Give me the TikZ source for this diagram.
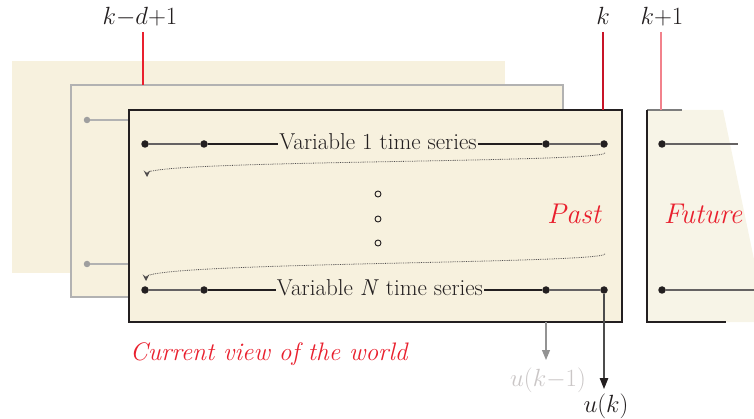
\documentclass[tikz,border=0pt]{standalone}
\usetikzlibrary{arrows.meta}

\definecolor{cream}{RGB}{247,241,222}
\definecolor{creamlight}{RGB}{247,244,231}
\definecolor{hired}{RGB}{233,32,46}
\definecolor{crimson}{RGB}{200,20,40}
\definecolor{pinkline}{RGB}{242,130,140}
\definecolor{panelgray}{RGB}{178,178,178}
\definecolor{ink}{RGB}{35,31,32}
\definecolor{fadedink}{RGB}{202,198,198}

\begin{document}
\begin{tikzpicture}[x=1pt,y=-1pt,
  dot/.style={circle,fill=ink,inner sep=0pt,minimum size=7.5pt},
  greydot/.style={circle,fill=gray!75,inner sep=0pt,minimum size=6.5pt},
  hollow/.style={circle,draw=ink,line width=0.9pt,inner sep=0pt,minimum size=6pt},
  series/.style={font=\fontsize{23}{27}\selectfont,text=ink,inner sep=1pt,anchor=base},
  era/.style={font=\fontsize{28.5}{32}\selectfont\itshape,text=hired,anchor=base,inner sep=0pt},
  tick/.style={font=\fontsize{25}{30}\selectfont,text=ink,anchor=base,inner sep=0pt},
  row/.style={line width=1.1pt,draw=ink},
  rowfaint/.style={line width=1.1pt,draw=ink!70},
  wrap/.style={densely dotted,line width=0.8pt,draw=ink!80,
    -{Stealth[length=6.5pt,width=6.5pt,inset=2.5pt]}},
  panel/.style={line width=1.3pt},
  marker/.style={line width=1.1pt},
]
\useasboundingbox (0,0) rectangle (754,419);

% stacked windows of earlier time steps
\fill[cream] (12,61) rectangle (505,273);
\filldraw[fill=cream,draw=panelgray,panel] (71,85) rectangle (563,297);
\node[greydot] (g1) at (87,120) {};
\node[greydot] (g2) at (87,264) {};
\coordinate (g1e) at (129,120);
\coordinate (g2e) at (129,264);
\draw[panelgray,line width=1.2pt] (g1) -- (g1e);
\draw[panelgray,line width=1.2pt] (g2) -- (g2e);

% current window
\filldraw[fill=cream,draw=ink,panel] (129,110) rectangle (622,322);

% variable 1 row
\node[dot] (a1) at (145,144) {};
\node[dot] (a2) at (204,144) {};
\node[dot] (a3) at (546,144) {};
\node[dot] (a4) at (604,144) {};
\node[series] (t1) at (378,150) {Variable 1 time series};
\draw[rowfaint] (a1) -- (a2);
\draw[row] (a2) -- (a2 -| t1.west);
\draw[row] (t1.east |- a3) -- (a3);
\draw[rowfaint] (a3) -- (a4);

% variable N row
\node[dot] (b1) at (145,290) {};
\node[dot] (b2) at (204,290) {};
\node[dot] (b3) at (546,290) {};
\node[dot] (b4) at (604,290) {};
\node[series] (tN) at (380,295) {Variable \textit{N} time series};
\draw[rowfaint] (b1) -- (b2);
\draw[row] (b2) -- (b2 -| tN.west);
\draw[row] (tN.east |- b3) -- (b3);
\draw[rowfaint] (b3) -- (b4);

% wrap-around of each row
\coordinate (w1s) at (605,153);
\coordinate (w1e) at (147,177);
\draw[wrap] (w1s) .. controls (600,163) and (147,160) .. (w1e);
\coordinate (w2s) at (605,254);
\coordinate (w2e) at (146,281);
\draw[wrap] (w2s) .. controls (600,264) and (146,262) .. (w2e);

% vertical ellipsis
\node[hollow] (e1) at (378,194) {};
\node[hollow] (e2) at (378,219) {};
\node[hollow] (e3) at (378,243) {};

\node[era] (past) at (574,224) {Past};

% future window
\fill[creamlight] (647,110) -- (723,110) -- (767,322) -- (647,322) -- cycle;
\draw[panelgray!70!black,panel] (647,110) -- (682,110);
\draw[ink,panel] (647,110) -- (647,322) -- (726,322);
\node[dot] (f1) at (662,144) {};
\node[dot] (f2) at (662,290) {};
\coordinate (f1e) at (738,144);
\coordinate (f2e) at (754,290);
\draw[rowfaint] (f1) -- (f1e);
\draw[rowfaint] (f2) -- (f2e);
\node[era] (future) at (703,224) {Future};

% time step markers
\node[tick] (kd) at (140,25) {$k{-}d{+}1$};
\node[tick] (k) at (603,25) {$k$};
\node[tick] (k1) at (662,25) {$k{+}1$};
\coordinate (kdt) at (143,32);
\coordinate (kdb) at (143,85);
\coordinate (kt) at (603,32);
\coordinate (kb) at (603,110);
\coordinate (k1t) at (661,32);
\coordinate (k1b) at (661,110);
\draw[hired,marker] (kdt) -- (kdb);
\draw[crimson,marker] (kt) -- (kb);
\draw[pinkline,line width=1.6pt] (k1t) -- (k1b);

% control outputs
\coordinate (uos) at (546,322);
\coordinate (uoe) at (546,360);
\draw[gray!85,line width=1.1pt,-{Triangle[length=10pt,width=8pt]}] (uos) -- (uoe);
\node[tick,text=fadedink] (uold) at (548,386) {$u(k{-}1)$};
\coordinate (une) at (604,389);
\draw[gray!60!black,line width=1.2pt,-{Triangle[length=11pt,width=8.5pt,color=ink]}] (b4) -- (une);
\node[tick] (unew) at (606,412) {$u(k)$};

\node[era,font=\fontsize{25.3}{30}\selectfont\itshape,anchor=base west] (world) at (130,360) {Current view of the world};
\end{tikzpicture}
\end{document}
